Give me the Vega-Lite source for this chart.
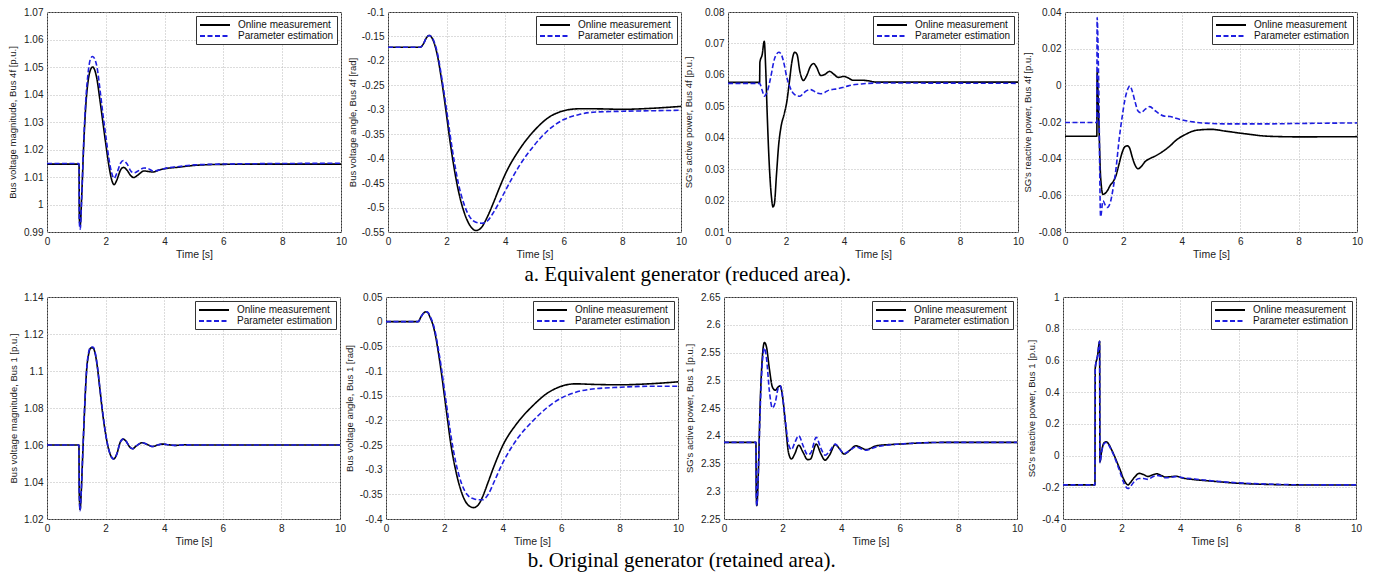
{
  "$schema": "https://vega.github.io/schema/vega-lite/v6.json",
  "padding": {"left": 6, "top": 6, "right": 5, "bottom": 2},
  "background": "white",
  "datasets": {
    "a1": [
      {"t":0,"m":1.0147,"e":1.0149},{"t":1.09,"m":1.0147,"e":1.0149},{"t":1.1,"m":0.995,"e":0.9935},{"t":1.13,"m":0.9925,"e":0.991},{"t":1.18,"m":1.003,"e":1.002},{"t":1.25,"m":1.022,"e":1.023},{"t":1.32,"m":1.036,"e":1.038},{"t":1.4,"m":1.045,"e":1.048},{"t":1.48,"m":1.049,"e":1.053},{"t":1.55,"m":1.05,"e":1.0538},{"t":1.62,"m":1.049,"e":1.053},{"t":1.7,"m":1.0455,"e":1.05},{"t":1.8,"m":1.038,"e":1.042},{"t":1.9,"m":1.03,"e":1.033},{"t":2.0,"m":1.022,"e":1.025},{"t":2.1,"m":1.0145,"e":1.017},{"t":2.2,"m":1.009,"e":1.0115},{"t":2.28,"m":1.0072,"e":1.0095},{"t":2.38,"m":1.009,"e":1.0115},{"t":2.5,"m":1.0125,"e":1.015},{"t":2.6,"m":1.0135,"e":1.016},{"t":2.72,"m":1.0125,"e":1.0148},{"t":2.85,"m":1.0105,"e":1.0122},{"t":2.95,"m":1.0098,"e":1.0115},{"t":3.1,"m":1.0108,"e":1.0122},{"t":3.3,"m":1.0122,"e":1.0133},{"t":3.45,"m":1.012,"e":1.013},{"t":3.6,"m":1.0118,"e":1.0122},{"t":3.8,"m":1.0125,"e":1.0125},{"t":4.0,"m":1.013,"e":1.0131},{"t":4.5,"m":1.0136,"e":1.0138},{"t":5.0,"m":1.0142,"e":1.0144},{"t":6.0,"m":1.0146,"e":1.0147},{"t":8.0,"m":1.0147,"e":1.0149},{"t":10,"m":1.0147,"e":1.015}
    ],
    "a2": [
      {"t":0,"m":-0.172,"e":-0.172},{"t":1.1,"m":-0.172,"e":-0.172},{"t":1.2,"m":-0.166,"e":-0.166},{"t":1.3,"m":-0.154,"e":-0.154},{"t":1.4,"m":-0.148,"e":-0.148},{"t":1.5,"m":-0.153,"e":-0.152},{"t":1.6,"m":-0.168,"e":-0.165},{"t":1.7,"m":-0.193,"e":-0.188},{"t":1.8,"m":-0.228,"e":-0.222},{"t":1.9,"m":-0.268,"e":-0.26},{"t":2.0,"m":-0.312,"e":-0.3},{"t":2.1,"m":-0.357,"e":-0.343},{"t":2.2,"m":-0.398,"e":-0.383},{"t":2.4,"m":-0.465,"e":-0.45},{"t":2.6,"m":-0.51,"e":-0.494},{"t":2.8,"m":-0.537,"e":-0.52},{"t":3.0,"m":-0.547,"e":-0.53},{"t":3.2,"m":-0.54,"e":-0.532},{"t":3.3,"m":-0.53,"e":-0.531},{"t":3.4,"m":-0.518,"e":-0.527},{"t":3.6,"m":-0.49,"e":-0.51},{"t":3.8,"m":-0.46,"e":-0.489},{"t":4.0,"m":-0.432,"e":-0.466},{"t":4.5,"m":-0.38,"e":-0.413},{"t":5.0,"m":-0.342,"e":-0.372},{"t":5.5,"m":-0.315,"e":-0.34},{"t":6.0,"m":-0.302,"e":-0.32},{"t":6.5,"m":-0.298,"e":-0.31},{"t":7.0,"m":-0.298,"e":-0.305},{"t":8.0,"m":-0.299,"e":-0.303},{"t":9.0,"m":-0.297,"e":-0.302},{"t":10,"m":-0.293,"e":-0.301}
    ],
    "a3": [
      {"t":0,"m":0.0576,"e":0.0573},{"t":1.09,"m":0.0576,"e":0.0573},{"t":1.1,"m":0.064,"e":0.0572},{"t":1.18,"m":0.0665,"e":0.055},{"t":1.25,"m":0.0707,"e":0.0532},{"t":1.3,"m":0.062,"e":0.0537},{"t":1.35,"m":0.048,"e":0.0545},{"t":1.42,"m":0.032,"e":0.057},{"t":1.5,"m":0.021,"e":0.0605},{"t":1.55,"m":0.018,"e":0.063},{"t":1.6,"m":0.019,"e":0.065},{"t":1.67,"m":0.028,"e":0.0665},{"t":1.75,"m":0.038,"e":0.0672},{"t":1.82,"m":0.043,"e":0.0668},{"t":1.95,"m":0.048,"e":0.0628},{"t":2.02,"m":0.051,"e":0.0595},{"t":2.12,"m":0.058,"e":0.0565},{"t":2.2,"m":0.064,"e":0.0548},{"t":2.3,"m":0.0672,"e":0.0537},{"t":2.38,"m":0.0665,"e":0.0533},{"t":2.48,"m":0.061,"e":0.0532},{"t":2.6,"m":0.0582,"e":0.0541},{"t":2.7,"m":0.0595,"e":0.0549},{"t":2.85,"m":0.0628,"e":0.0553},{"t":2.95,"m":0.0636,"e":0.0549},{"t":3.05,"m":0.0625,"e":0.0543},{"t":3.2,"m":0.0598,"e":0.054},{"t":3.35,"m":0.0602,"e":0.0545},{"t":3.5,"m":0.0611,"e":0.0552},{"t":3.65,"m":0.0602,"e":0.0554},{"t":3.8,"m":0.0592,"e":0.0556},{"t":4.0,"m":0.0595,"e":0.0561},{"t":4.15,"m":0.059,"e":0.0565},{"t":4.3,"m":0.0583,"e":0.0568},{"t":4.6,"m":0.0583,"e":0.0571},{"t":4.85,"m":0.0581,"e":0.0573},{"t":5.1,"m":0.0577,"e":0.0574},{"t":10,"m":0.0577,"e":0.0573}
    ],
    "a4": [
      {"t":0,"m":-0.0278,"e":-0.0203},{"t":1.09,"m":-0.0278,"e":-0.0203},{"t":1.1,"m":0.007,"e":0.037},{"t":1.15,"m":-0.015,"e":0.005},{"t":1.22,"m":-0.05,"e":-0.0717},{"t":1.3,"m":-0.0595,"e":-0.063},{"t":1.4,"m":-0.0585,"e":-0.066},{"t":1.45,"m":-0.0575,"e":-0.0666},{"t":1.55,"m":-0.0545,"e":-0.064},{"t":1.65,"m":-0.0525,"e":-0.056},{"t":1.75,"m":-0.049,"e":-0.045},{"t":1.85,"m":-0.043,"e":-0.03},{"t":1.95,"m":-0.037,"e":-0.018},{"t":2.05,"m":-0.0335,"e":-0.008},{"t":2.15,"m":-0.033,"e":-0.002},{"t":2.22,"m":-0.0345,"e":-0.0003},{"t":2.3,"m":-0.039,"e":-0.003},{"t":2.4,"m":-0.0435,"e":-0.009},{"t":2.5,"m":-0.0455,"e":-0.014},{"t":2.6,"m":-0.0445,"e":-0.015},{"t":2.75,"m":-0.0415,"e":-0.013},{"t":2.9,"m":-0.04,"e":-0.0116},{"t":3.1,"m":-0.0385,"e":-0.014},{"t":3.4,"m":-0.0355,"e":-0.0168},{"t":3.6,"m":-0.033,"e":-0.017},{"t":3.8,"m":-0.03,"e":-0.018},{"t":4.1,"m":-0.027,"e":-0.0192},{"t":4.5,"m":-0.0245,"e":-0.0202},{"t":5.0,"m":-0.024,"e":-0.0208},{"t":5.5,"m":-0.025,"e":-0.021},{"t":6.2,"m":-0.0265,"e":-0.021},{"t":7.0,"m":-0.0278,"e":-0.021},{"t":8.0,"m":-0.0281,"e":-0.0208},{"t":10,"m":-0.028,"e":-0.0205}
    ],
    "b1": [
      {"t":0,"m":1.06,"e":1.06},{"t":1.09,"m":1.06,"e":1.06},{"t":1.1,"m":1.035,"e":1.035},{"t":1.13,"m":1.025,"e":1.0245},{"t":1.17,"m":1.035,"e":1.035},{"t":1.22,"m":1.055,"e":1.055},{"t":1.28,"m":1.078,"e":1.079},{"t":1.35,"m":1.1,"e":1.1},{"t":1.42,"m":1.109,"e":1.11},{"t":1.5,"m":1.1125,"e":1.113},{"t":1.57,"m":1.1125,"e":1.113},{"t":1.65,"m":1.109,"e":1.1095},{"t":1.72,"m":1.102,"e":1.1025},{"t":1.8,"m":1.091,"e":1.0915},{"t":1.9,"m":1.077,"e":1.078},{"t":2.0,"m":1.066,"e":1.066},{"t":2.1,"m":1.058,"e":1.058},{"t":2.2,"m":1.0535,"e":1.0535},{"t":2.28,"m":1.0525,"e":1.0525},{"t":2.38,"m":1.055,"e":1.055},{"t":2.5,"m":1.0615,"e":1.0615},{"t":2.6,"m":1.0632,"e":1.0632},{"t":2.7,"m":1.062,"e":1.062},{"t":2.82,"m":1.059,"e":1.059},{"t":2.92,"m":1.058,"e":1.058},{"t":3.05,"m":1.0595,"e":1.0595},{"t":3.25,"m":1.0612,"e":1.0612},{"t":3.42,"m":1.0603,"e":1.0603},{"t":3.6,"m":1.0592,"e":1.0592},{"t":3.8,"m":1.0601,"e":1.0601},{"t":3.95,"m":1.0605,"e":1.0605},{"t":4.15,"m":1.0601,"e":1.0601},{"t":4.4,"m":1.0598,"e":1.0598},{"t":4.7,"m":1.0601,"e":1.0601},{"t":5,"m":1.06,"e":1.06},{"t":10,"m":1.06,"e":1.06}
    ],
    "b2": [
      {"t":0,"m":0,"e":0},{"t":1.1,"m":0,"e":0},{"t":1.2,"m":0.01,"e":0.01},{"t":1.3,"m":0.018,"e":0.018},{"t":1.38,"m":0.02,"e":0.02},{"t":1.45,"m":0.017,"e":0.018},{"t":1.5,"m":0.01,"e":0.012},{"t":1.6,"m":-0.005,"e":-0.002},{"t":1.7,"m":-0.03,"e":-0.025},{"t":1.8,"m":-0.065,"e":-0.058},{"t":1.9,"m":-0.105,"e":-0.095},{"t":2.0,"m":-0.15,"e":-0.138},{"t":2.1,"m":-0.195,"e":-0.18},{"t":2.2,"m":-0.24,"e":-0.222},{"t":2.4,"m":-0.305,"e":-0.288},{"t":2.6,"m":-0.348,"e":-0.33},{"t":2.8,"m":-0.371,"e":-0.352},{"t":3.0,"m":-0.377,"e":-0.359},{"t":3.2,"m":-0.368,"e":-0.361},{"t":3.3,"m":-0.356,"e":-0.361},{"t":3.5,"m":-0.325,"e":-0.35},{"t":3.7,"m":-0.293,"e":-0.325},{"t":4.0,"m":-0.251,"e":-0.286},{"t":4.5,"m":-0.205,"e":-0.237},{"t":5.0,"m":-0.172,"e":-0.203},{"t":5.5,"m":-0.146,"e":-0.175},{"t":6.0,"m":-0.131,"e":-0.155},{"t":6.5,"m":-0.126,"e":-0.143},{"t":7.0,"m":-0.127,"e":-0.137},{"t":8.0,"m":-0.128,"e":-0.133},{"t":9.0,"m":-0.126,"e":-0.131},{"t":10,"m":-0.122,"e":-0.131}
    ],
    "b3": [
      {"t":0,"m":2.388,"e":2.388},{"t":1.09,"m":2.388,"e":2.388},{"t":1.1,"m":2.3,"e":2.3},{"t":1.12,"m":2.274,"e":2.274},{"t":1.17,"m":2.33,"e":2.33},{"t":1.23,"m":2.45,"e":2.44},{"t":1.3,"m":2.535,"e":2.525},{"t":1.38,"m":2.568,"e":2.558},{"t":1.45,"m":2.56,"e":2.54},{"t":1.55,"m":2.52,"e":2.48},{"t":1.65,"m":2.488,"e":2.45},{"t":1.75,"m":2.482,"e":2.46},{"t":1.85,"m":2.488,"e":2.486},{"t":1.92,"m":2.49,"e":2.49},{"t":2.0,"m":2.47,"e":2.47},{"t":2.1,"m":2.42,"e":2.425},{"t":2.2,"m":2.37,"e":2.385},{"t":2.3,"m":2.358,"e":2.375},{"t":2.42,"m":2.368,"e":2.388},{"t":2.55,"m":2.383,"e":2.4},{"t":2.7,"m":2.37,"e":2.382},{"t":2.85,"m":2.357,"e":2.366},{"t":2.95,"m":2.358,"e":2.368},{"t":3.15,"m":2.385,"e":2.397},{"t":3.3,"m":2.368,"e":2.378},{"t":3.45,"m":2.356,"e":2.365},{"t":3.6,"m":2.365,"e":2.372},{"t":3.8,"m":2.384,"e":2.385},{"t":3.95,"m":2.376,"e":2.376},{"t":4.1,"m":2.367,"e":2.368},{"t":4.3,"m":2.374,"e":2.374},{"t":4.5,"m":2.382,"e":2.38},{"t":4.7,"m":2.378,"e":2.376},{"t":4.85,"m":2.375,"e":2.374},{"t":5.2,"m":2.382,"e":2.38},{"t":6.0,"m":2.385,"e":2.385},{"t":7.5,"m":2.388,"e":2.388},{"t":10,"m":2.388,"e":2.388}
    ],
    "b4": [
      {"t":0,"m":-0.185,"e":-0.185},{"t":1.09,"m":-0.185,"e":-0.185},{"t":1.1,"m":0.55,"e":0.55},{"t":1.18,"m":0.63,"e":0.63},{"t":1.25,"m":0.72,"e":0.72},{"t":1.26,"m":-0.04,"e":-0.045},{"t":1.32,"m":0.03,"e":0.025},{"t":1.4,"m":0.08,"e":0.075},{"t":1.47,"m":0.087,"e":0.082},{"t":1.55,"m":0.075,"e":0.07},{"t":1.65,"m":0.04,"e":0.035},{"t":1.75,"m":0,"e":-0.005},{"t":1.85,"m":-0.045,"e":-0.055},{"t":1.95,"m":-0.09,"e":-0.105},{"t":2.05,"m":-0.14,"e":-0.16},{"t":2.15,"m":-0.175,"e":-0.198},{"t":2.22,"m":-0.185,"e":-0.208},{"t":2.3,"m":-0.17,"e":-0.195},{"t":2.45,"m":-0.135,"e":-0.16},{"t":2.6,"m":-0.112,"e":-0.145},{"t":2.75,"m":-0.12,"e":-0.145},{"t":2.9,"m":-0.132,"e":-0.15},{"t":3.05,"m":-0.122,"e":-0.135},{"t":3.2,"m":-0.115,"e":-0.125},{"t":3.35,"m":-0.125,"e":-0.13},{"t":3.5,"m":-0.135,"e":-0.14},{"t":3.7,"m":-0.133,"e":-0.136},{"t":3.85,"m":-0.13,"e":-0.133},{"t":4.1,"m":-0.142,"e":-0.14},{"t":4.5,"m":-0.152,"e":-0.148},{"t":5.0,"m":-0.16,"e":-0.158},{"t":6.0,"m":-0.175,"e":-0.172},{"t":7.0,"m":-0.182,"e":-0.18},{"t":8.0,"m":-0.185,"e":-0.184},{"t":10,"m":-0.186,"e":-0.185}
    ]
  },
  "vconcat": [
    {
      "hconcat": [
        {"width": 294, "height": 220, "data": {"name": "a1"},
         "transform": [{"fold": ["m", "e"], "as": ["s", "v"]}],
         "mark": {"type": "line", "strokeWidth": 1.6, "interpolate": "monotone"},
         "encoding": {
           "x": {"field": "t", "type": "quantitative", "scale": {"domain": [0, 10], "nice": false}, "axis": {"values": [0, 2, 4, 6, 8, 10], "title": "Time [s]"}},
           "y": {"field": "v", "type": "quantitative", "scale": {"domain": [0.99, 1.07], "nice": false, "zero": false}, "axis": {"values": [0.99, 1, 1.01, 1.02, 1.03, 1.04, 1.05, 1.06, 1.07], "labelExpr": "'' + datum.value", "title": "Bus voltage magnitude, Bus 4f [p.u.]", "titlePadding": 4}},
           "color": {"field": "s", "type": "nominal", "scale": {"domain": ["m", "e"], "range": ["#000000", "#1e1ee0"]}, "legend": {"title": null, "labelExpr": "datum.label == 'm' ? 'Online measurement' : 'Parameter estimation'"}},
           "strokeDash": {"field": "s", "type": "nominal", "scale": {"domain": ["m", "e"], "range": [[1, 0], [5, 2.5]]}, "legend": {"title": null, "labelExpr": "datum.label == 'm' ? 'Online measurement' : 'Parameter estimation'"}}
         }},
        {"width": 293, "height": 220, "data": {"name": "a2"},
         "transform": [{"fold": ["m", "e"], "as": ["s", "v"]}],
         "mark": {"type": "line", "strokeWidth": 1.6, "interpolate": "monotone"},
         "encoding": {
           "x": {"field": "t", "type": "quantitative", "scale": {"domain": [0, 10], "nice": false}, "axis": {"values": [0, 2, 4, 6, 8, 10], "title": "Time [s]"}},
           "y": {"field": "v", "type": "quantitative", "scale": {"domain": [-0.55, -0.1], "nice": false, "zero": false}, "axis": {"values": [-0.55, -0.5, -0.45, -0.4, -0.35, -0.3, -0.25, -0.2, -0.15, -0.1], "labelExpr": "'' + datum.value", "title": "Bus voltage angle, Bus 4f [rad]", "titlePadding": 5}},
           "color": {"field": "s", "type": "nominal", "scale": {"domain": ["m", "e"], "range": ["#000000", "#1e1ee0"]}, "legend": {"title": null, "labelExpr": "datum.label == 'm' ? 'Online measurement' : 'Parameter estimation'"}},
           "strokeDash": {"field": "s", "type": "nominal", "scale": {"domain": ["m", "e"], "range": [[1, 0], [5, 2.5]]}, "legend": {"title": null, "labelExpr": "datum.label == 'm' ? 'Online measurement' : 'Parameter estimation'"}}
         }},
        {"width": 290, "height": 220, "data": {"name": "a3"},
         "transform": [{"fold": ["m", "e"], "as": ["s", "v"]}],
         "mark": {"type": "line", "strokeWidth": 1.6, "interpolate": "monotone"},
         "encoding": {
           "x": {"field": "t", "type": "quantitative", "scale": {"domain": [0, 10], "nice": false}, "axis": {"values": [0, 2, 4, 6, 8, 10], "title": "Time [s]"}},
           "y": {"field": "v", "type": "quantitative", "scale": {"domain": [0.01, 0.08], "nice": false, "zero": false}, "axis": {"values": [0.01, 0.02, 0.03, 0.04, 0.05, 0.06, 0.07, 0.08], "labelExpr": "'' + datum.value", "title": "SG's active power, Bus 4f [p.u.]", "titlePadding": 9}},
           "color": {"field": "s", "type": "nominal", "scale": {"domain": ["m", "e"], "range": ["#000000", "#1e1ee0"]}, "legend": {"title": null, "labelExpr": "datum.label == 'm' ? 'Online measurement' : 'Parameter estimation'"}},
           "strokeDash": {"field": "s", "type": "nominal", "scale": {"domain": ["m", "e"], "range": [[1, 0], [5, 2.5]]}, "legend": {"title": null, "labelExpr": "datum.label == 'm' ? 'Online measurement' : 'Parameter estimation'"}}
         }},
        {"width": 292, "height": 220, "data": {"name": "a4"},
         "transform": [{"fold": ["m", "e"], "as": ["s", "v"]}],
         "mark": {"type": "line", "strokeWidth": 1.6, "interpolate": "monotone"},
         "encoding": {
           "x": {"field": "t", "type": "quantitative", "scale": {"domain": [0, 10], "nice": false}, "axis": {"values": [0, 2, 4, 6, 8, 10], "title": "Time [s]"}},
           "y": {"field": "v", "type": "quantitative", "scale": {"domain": [-0.08, 0.04], "nice": false, "zero": false}, "axis": {"values": [-0.08, -0.06, -0.04, -0.02, 0, 0.02, 0.04], "labelExpr": "'' + datum.value", "title": "SG's reactive power, Bus 4f [p.u.]", "titlePadding": 7}},
           "color": {"field": "s", "type": "nominal", "scale": {"domain": ["m", "e"], "range": ["#000000", "#1e1ee0"]}, "legend": {"title": null, "labelExpr": "datum.label == 'm' ? 'Online measurement' : 'Parameter estimation'"}},
           "strokeDash": {"field": "s", "type": "nominal", "scale": {"domain": ["m", "e"], "range": [[1, 0], [5, 2.5]]}, "legend": {"title": null, "labelExpr": "datum.label == 'm' ? 'Online measurement' : 'Parameter estimation'"}}
         }}
      ],
      "spacing": 47,
      "bounds": "flush",
      "resolve": {"scale": {"color": "independent", "strokeDash": "independent"}, "legend": {"color": "independent", "strokeDash": "independent"}},
      "title": {"text": "a. Equivalent generator (reduced area).", "orient": "bottom", "anchor": "middle", "font": "Liberation Serif", "fontSize": 21, "fontWeight": "normal", "color": "#000000", "offset": 4, "dx": 3}
    },
    {
      "hconcat": [
        {"width": 293, "height": 222, "data": {"name": "b1"},
         "transform": [{"fold": ["m", "e"], "as": ["s", "v"]}],
         "mark": {"type": "line", "strokeWidth": 1.6, "interpolate": "monotone"},
         "encoding": {
           "x": {"field": "t", "type": "quantitative", "scale": {"domain": [0, 10], "nice": false}, "axis": {"values": [0, 2, 4, 6, 8, 10], "title": "Time [s]"}},
           "y": {"field": "v", "type": "quantitative", "scale": {"domain": [1.02, 1.14], "nice": false, "zero": false}, "axis": {"values": [1.02, 1.04, 1.06, 1.08, 1.1, 1.12, 1.14], "labelExpr": "'' + datum.value", "title": "Bus voltage magnitude, Bus 1 [p.u.]", "titlePadding": 3}},
           "color": {"field": "s", "type": "nominal", "scale": {"domain": ["m", "e"], "range": ["#000000", "#1e1ee0"]}, "legend": {"title": null, "labelExpr": "datum.label == 'm' ? 'Online measurement' : 'Parameter estimation'"}},
           "strokeDash": {"field": "s", "type": "nominal", "scale": {"domain": ["m", "e"], "range": [[1, 0], [5, 2.5]]}, "legend": {"title": null, "labelExpr": "datum.label == 'm' ? 'Online measurement' : 'Parameter estimation'"}}
         }},
        {"width": 292, "height": 222, "data": {"name": "b2"},
         "transform": [{"fold": ["m", "e"], "as": ["s", "v"]}],
         "mark": {"type": "line", "strokeWidth": 1.6, "interpolate": "monotone"},
         "encoding": {
           "x": {"field": "t", "type": "quantitative", "scale": {"domain": [0, 10], "nice": false}, "axis": {"values": [0, 2, 4, 6, 8, 10], "title": "Time [s]"}},
           "y": {"field": "v", "type": "quantitative", "scale": {"domain": [-0.4, 0.05], "nice": false, "zero": false}, "axis": {"values": [-0.4, -0.35, -0.3, -0.25, -0.2, -0.15, -0.1, -0.05, 0, 0.05], "labelExpr": "'' + datum.value", "title": "Bus voltage angle, Bus 1 [rad]", "titlePadding": 6}},
           "color": {"field": "s", "type": "nominal", "scale": {"domain": ["m", "e"], "range": ["#000000", "#1e1ee0"]}, "legend": {"title": null, "labelExpr": "datum.label == 'm' ? 'Online measurement' : 'Parameter estimation'"}},
           "strokeDash": {"field": "s", "type": "nominal", "scale": {"domain": ["m", "e"], "range": [[1, 0], [5, 2.5]]}, "legend": {"title": null, "labelExpr": "datum.label == 'm' ? 'Online measurement' : 'Parameter estimation'"}}
         }},
        {"width": 293, "height": 222, "data": {"name": "b3"},
         "transform": [{"fold": ["m", "e"], "as": ["s", "v"]}],
         "mark": {"type": "line", "strokeWidth": 1.6, "interpolate": "monotone"},
         "encoding": {
           "x": {"field": "t", "type": "quantitative", "scale": {"domain": [0, 10], "nice": false}, "axis": {"values": [0, 2, 4, 6, 8, 10], "title": "Time [s]"}},
           "y": {"field": "v", "type": "quantitative", "scale": {"domain": [2.25, 2.65], "nice": false, "zero": false}, "axis": {"values": [2.25, 2.3, 2.35, 2.4, 2.45, 2.5, 2.55, 2.6, 2.65], "labelExpr": "'' + datum.value", "title": "SG's active power, Bus 1 [p.u.]", "titlePadding": 4}},
           "color": {"field": "s", "type": "nominal", "scale": {"domain": ["m", "e"], "range": ["#000000", "#1e1ee0"]}, "legend": {"title": null, "labelExpr": "datum.label == 'm' ? 'Online measurement' : 'Parameter estimation'"}},
           "strokeDash": {"field": "s", "type": "nominal", "scale": {"domain": ["m", "e"], "range": [[1, 0], [5, 2.5]]}, "legend": {"title": null, "labelExpr": "datum.label == 'm' ? 'Online measurement' : 'Parameter estimation'"}}
         }},
        {"width": 293, "height": 222, "data": {"name": "b4"},
         "transform": [{"fold": ["m", "e"], "as": ["s", "v"]}],
         "mark": {"type": "line", "strokeWidth": 1.6, "interpolate": "monotone"},
         "encoding": {
           "x": {"field": "t", "type": "quantitative", "scale": {"domain": [0, 10], "nice": false}, "axis": {"values": [0, 2, 4, 6, 8, 10], "title": "Time [s]"}},
           "y": {"field": "v", "type": "quantitative", "scale": {"domain": [-0.4, 1], "nice": false, "zero": false}, "axis": {"values": [-0.4, -0.2, 0, 0.2, 0.4, 0.6, 0.8, 1], "labelExpr": "'' + datum.value", "title": "SG's reactive power, Bus 1 [p.u.]", "titlePadding": 1}},
           "color": {"field": "s", "type": "nominal", "scale": {"domain": ["m", "e"], "range": ["#000000", "#1e1ee0"]}, "legend": {"title": null, "labelExpr": "datum.label == 'm' ? 'Online measurement' : 'Parameter estimation'"}},
           "strokeDash": {"field": "s", "type": "nominal", "scale": {"domain": ["m", "e"], "range": [[1, 0], [5, 2.5]]}, "legend": {"title": null, "labelExpr": "datum.label == 'm' ? 'Online measurement' : 'Parameter estimation'"}}
         }}
      ],
      "spacing": 46,
      "bounds": "flush",
      "resolve": {"scale": {"color": "independent", "strokeDash": "independent"}, "legend": {"color": "independent", "strokeDash": "independent"}},
      "title": {"text": "b. Original generator (retained area).", "orient": "bottom", "anchor": "middle", "font": "Liberation Serif", "fontSize": 21, "fontWeight": "normal", "color": "#000000", "offset": 3, "dx": -3}
    }
  ],
  "spacing": 6,
  "resolve": {"scale": {"color": "independent", "strokeDash": "independent"}, "legend": {"color": "independent", "strokeDash": "independent"}},
  "config": {
    "font": "Liberation Sans",
    "view": {"stroke": "#333333", "strokeWidth": 1},
    "axis": {"labelFontSize": 10, "titleFontSize": 9.5, "titleFontWeight": "normal", "labelColor": "#222222", "titleColor": "#222222", "gridColor": "#b8b8b8", "gridDash": [1, 2], "gridWidth": 1, "domain": false, "ticks": false, "labelPadding": 4, "labelFlush": false, "labelOverlap": false, "labelBound": false},
    "axisX": {"titlePadding": 3, "titleFontSize": 10.5},
    "axisY": {"minExtent": 26, "maxExtent": 26},
    "legend": {"orient": "top-right", "offset": 4, "strokeColor": "#333333", "fillColor": "white", "padding": 3, "symbolType": "M-1,0H5", "symbolSize": 100, "symbolStrokeWidth": 1.8, "labelFontSize": 10, "labelColor": "#111111", "labelOffset": 27, "rowPadding": 0, "labelLimit": 200}
  }
}
